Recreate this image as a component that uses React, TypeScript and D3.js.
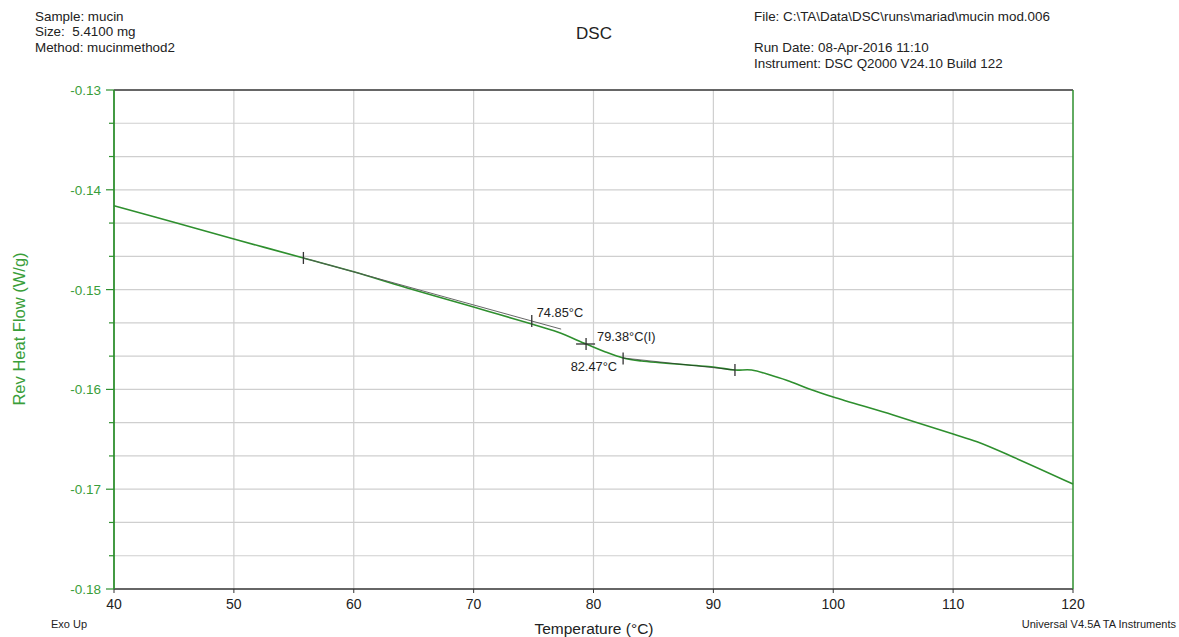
import React from "react";
import * as d3 from "d3";

const temps = [40, 45, 50, 55.8, 60, 64.4, 70, 72, 74.85, 77, 79.38, 81, 82.47, 84, 90, 91.8, 93.2, 95, 96.4, 98, 100, 105, 110, 112, 115, 120];
const heatFlow = [-0.1416, -0.14325, -0.14493, -0.14683, -0.14821, -0.14981, -0.15174, -0.15245, -0.15345, -0.15425, -0.15545, -0.15625, -0.15685, -0.15715, -0.15776, -0.15806, -0.15806, -0.15866, -0.1592, -0.15995, -0.16076, -0.16257, -0.16447, -0.16525, -0.16677, -0.16948];

const xTicks = [40, 50, 60, 70, 80, 90, 100, 110, 120];
const yMajor = [-0.13, -0.14, -0.15, -0.16, -0.17, -0.18];

const tangentStart = { t: 55.8, v: -0.14683 };
const tangentEnd = { t: 77.3, v: -0.15396 };
const baselineStart = { t: 82.47, v: -0.15685 };
const baselineEnd = { t: 91.8, v: -0.15806 };
const tickMarks = [
  { t: 55.8, v: -0.14683 },
  { t: 74.85, v: -0.15315 },
  { t: 82.47, v: -0.1569 },
  { t: 91.8, v: -0.15806 },
];
const inflection = { t: 79.38, v: -0.15545 };
const labels = [
  { text: "74.85°C", t: 74.85, v: -0.15315, dx: 5, dy: -4, anchor: "start" },
  { text: "79.38°C(I)", t: 79.38, v: -0.15545, dx: 11, dy: -3, anchor: "start" },
  { text: "82.47°C", t: 82.47, v: -0.1569, dx: -6, dy: 13, anchor: "end" },
];

const headerLeft = ["Sample: mucin", "Size:  5.4100 mg", "Method: mucinmethod2"];
const headerRight = ["File: C:\\TA\\Data\\DSC\\runs\\mariad\\mucin mod.006", "", "Run Date: 08-Apr-2016 11:10", "Instrument: DSC Q2000 V24.10 Build 122"];

const W = 1179;
const H = 637;
const left = 114;
const right = 1073;
const top = 90;
const bottom = 589;
const FONT = "'Liberation Sans', Arial, sans-serif";
const GREEN = "#2e8f2e";
const LGREEN = "#3a9e3a";

export default function App() {
  const x = d3.scaleLinear().domain([40, 120]).range([left, right]);
  const y = d3.scaleLinear().domain([-0.18, -0.13]).range([bottom, top]);
  const yGrid = d3.range(0, 16).map((i) => -0.18 + (i * 0.01) / 3);
  const pts = temps.map((t, i) => [t, heatFlow[i]] as [number, number]);
  const line = d3
    .line<[number, number]>()
    .x((d) => x(d[0]))
    .y((d) => y(d[1]))
    .curve(d3.curveCatmullRom.alpha(0.5));

  return (
    <svg width={W} height={H} style={{ position: "absolute", left: 0, top: 0, background: "#fff" }} fontFamily={FONT}>
      {/* header */}
      {headerLeft.map((s, i) => (
        <text key={"hl" + i} x={35} y={20.5 + i * 15.5} fontSize={13.4} fill="#222" style={{ whiteSpace: "pre" }}>
          {s}
        </text>
      ))}
      {headerRight.map((s, i) => (
        <text key={"hr" + i} x={754} y={21 + i * 15.5} fontSize={13.4} fill="#222">
          {s}
        </text>
      ))}
      <text x={594} y={39} fontSize={17} textAnchor="middle" fill="#222">DSC</text>

      {/* grid */}
      {xTicks.slice(1, -1).map((t) => (
        <line key={"vx" + t} x1={x(t)} x2={x(t)} y1={top} y2={bottom} stroke="#cfcfcf" strokeWidth={1.2} />
      ))}
      {yGrid.slice(1, -1).map((v, i) => (
        <line key={"hy" + i} x1={left} x2={right} y1={y(v)} y2={y(v)} stroke="#cfcfcf" strokeWidth={1.2} />
      ))}

      {/* frame */}
      <line x1={left} x2={right} y1={top} y2={top} stroke="#333" strokeWidth={1.3} />
      <line x1={left} x2={right} y1={bottom} y2={bottom} stroke="#333" strokeWidth={1.5} />
      <line x1={left} x2={left} y1={top} y2={bottom} stroke={GREEN} strokeWidth={1.8} />
      <line x1={right} x2={right} y1={top} y2={bottom} stroke={GREEN} strokeWidth={1.5} />

      {/* y ticks */}
      {yGrid.map((v, i) => (
        <line key={"yt" + i} x1={i % 3 === 0 ? left - 8 : left - 5} x2={left} y1={y(v)} y2={y(v)} stroke={GREEN} strokeWidth={1.2} />
      ))}
      {yMajor.map((v) => (
        <text key={"yl" + v} x={101} y={y(v) + 5} fontSize={13.5} textAnchor="end" fill={LGREEN}>
          {v.toFixed(2)}
        </text>
      ))}
      <text transform={`translate(25,329) rotate(-90)`} fontSize={16.5} textAnchor="middle" fill={LGREEN}>
        Rev Heat Flow (W/g)
      </text>

      {/* x ticks */}
      {xTicks.map((t) => (
        <g key={"xt" + t}>
          <line x1={x(t)} x2={x(t)} y1={bottom} y2={bottom + 4} stroke="#333" strokeWidth={1} />
          <text x={x(t)} y={608.5} fontSize={14} textAnchor="middle" fill="#222">
            {t}
          </text>
        </g>
      ))}
      <text x={594} y={634} fontSize={15.5} textAnchor="middle" fill="#222">Temperature (°C)</text>
      <text x={51} y={628} fontSize={11} fill="#222">Exo Up</text>
      <text x={1176} y={628} fontSize={11} textAnchor="end" fill="#222">Universal V4.5A TA Instruments</text>

      {/* curve */}
      <path d={line(pts) || ""} fill="none" stroke={GREEN} strokeWidth={1.6} />

      {/* analysis overlays */}
      <line x1={x(tangentStart.t)} y1={y(tangentStart.v)} x2={x(tangentEnd.t)} y2={y(tangentEnd.v)} stroke="#555" strokeWidth={0.9} />
      <line x1={x(baselineStart.t)} y1={y(baselineStart.v)} x2={x(baselineEnd.t)} y2={y(baselineEnd.v)} stroke="#222" strokeWidth={1} opacity={0.6} />
      {tickMarks.map((m, i) => (
        <line key={"tm" + i} x1={x(m.t)} x2={x(m.t)} y1={y(m.v) - 6} y2={y(m.v) + 6} stroke="#333" strokeWidth={1.3} />
      ))}
      <line x1={x(inflection.t) - 10} x2={x(inflection.t) + 9} y1={y(inflection.v)} y2={y(inflection.v)} stroke="#333" strokeWidth={1.3} />
      <line x1={x(inflection.t)} x2={x(inflection.t)} y1={y(inflection.v) - 6} y2={y(inflection.v) + 6} stroke="#333" strokeWidth={1.3} />
      {labels.map((l, i) => (
        <text key={"lb" + i} x={x(l.t) + l.dx} y={y(l.v) + l.dy} fontSize={12.8} textAnchor={l.anchor as any} fill="#222">
          {l.text}
        </text>
      ))}
    </svg>
  );
}
